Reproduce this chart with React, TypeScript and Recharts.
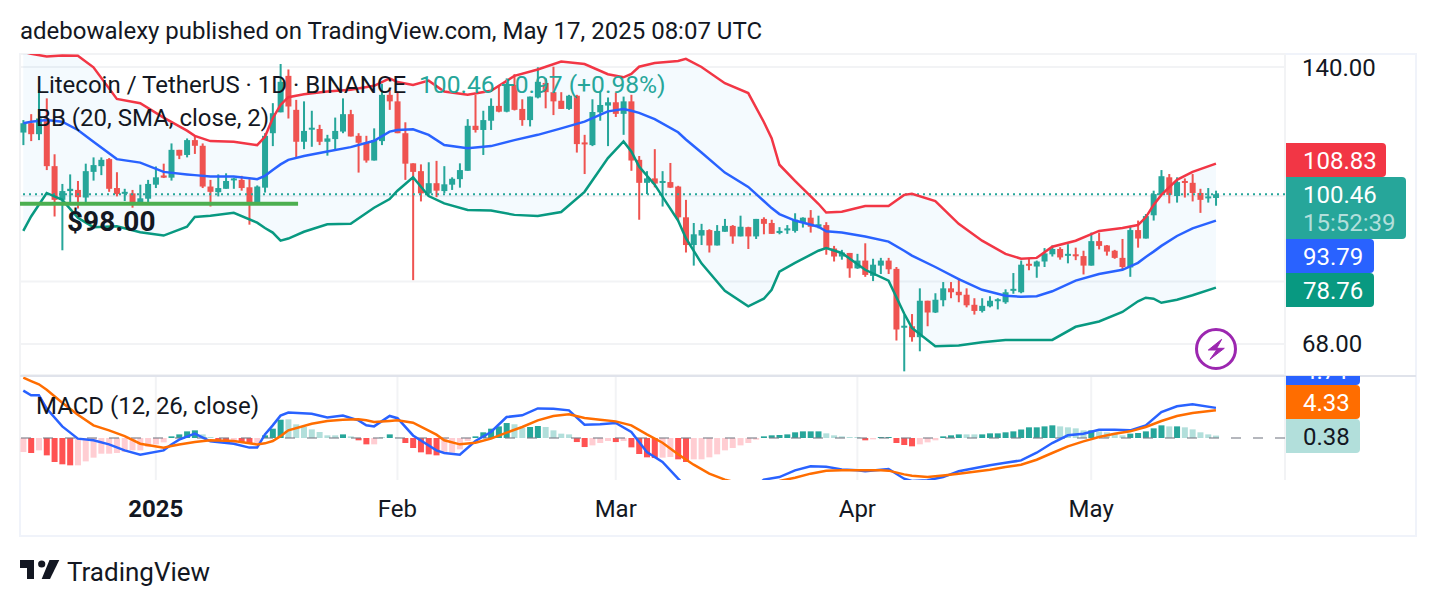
import React from "react";
import { ComposedChart, Bar, Line, Area, XAxis, YAxis, CartesianGrid, ReferenceLine, Cell } from "recharts";

const opens = [118.0,120.9,117.5,122.4,108.1,99.0,101.3,101.6,99.6,106.5,108.1,110.1,102.1,100.7,100.7,98.3,99.3,103.0,105.5,104.9,112.8,111.3,115.7,114.0,102.5,101.0,101.9,104.3,104.3,102.3,98.3,102.2,117.8,124.4,136.8,125.2,115.2,119.0,119.1,115.2,116.0,118.3,123.8,117.0,114.9,109.7,115.4,130.2,128.0,117.8,108.9,106.7,100.7,103.4,101.3,103.0,104.5,106.8,120.1,118.8,121.7,126.5,124.6,133.6,125.5,121.9,129.3,134.3,131.1,128.2,125.5,129.9,115.0,114.2,124.4,126.6,127.7,123.9,128.0,109.9,103.5,104.7,103.6,103.7,102.5,94.6,88.0,90.2,91.5,87.9,91.1,92.5,90.0,92.2,90.0,94.2,93.2,90.8,91.5,91.3,93.3,94.5,92.3,92.7,87.2,85.4,86.2,82.8,84.5,81.2,83.4,84.5,82.7,71.0,71.2,69.2,76.1,73.8,76.2,78.6,77.9,77.3,75.3,74.1,75.0,76.1,75.8,78.1,77.8,83.8,83.2,84.3,85.9,87.1,85.7,85.9,85.5,83.4,88.9,87.9,86.7,85.1,83.0,91.5,89.5,95.1,100.3,105.0,100.0,104.0,103.5,100.8,99.4,99.49];
const highs = [121.9,123.8,131.9,129.0,111.5,103.2,105.8,104.0,108.8,110.6,110.6,110.4,106.4,101.9,101.6,103.0,104.3,108.0,108.8,114.7,112.8,116.2,117.0,114.7,104.3,105.8,106.1,104.9,105.4,104.5,102.8,117.8,127.4,141.1,139.1,128.5,128.0,124.9,120.4,117.3,122.7,129.0,125.2,117.8,117.0,119.3,134.0,131.9,131.3,121.2,108.9,108.6,109.2,109.6,108.1,105.0,108.9,122.2,130.2,124.9,129.0,133.6,135.9,137.4,128.7,129.6,139.9,135.9,140.1,131.1,130.2,130.2,117.3,128.7,131.3,129.3,130.9,129.6,130.2,111.0,106.7,113.0,106.7,109.0,102.7,99.0,93.2,93.0,91.7,92.7,94.2,92.7,95.0,92.3,94.2,94.6,94.0,92.2,92.7,95.6,94.6,96.4,95.0,93.4,87.8,86.9,86.2,86.0,88.4,84.9,85.1,85.1,83.1,73.4,73.5,78.6,76.1,77.6,79.9,79.9,80.7,78.6,76.6,76.6,77.0,76.6,78.4,81.8,84.5,85.1,84.5,87.3,87.9,87.5,88.2,87.4,86.7,90.9,90.9,88.0,86.9,89.4,92.5,93.8,95.4,101.4,107.0,105.9,105.0,104.7,105.9,101.9,102.1,101.4];
const lows = [114.2,115.4,115.7,107.0,94.8,86.8,97.7,96.8,98.1,104.1,105.6,101.1,99.9,98.7,97.0,97.7,97.9,102.1,104.8,104.1,110.1,110.6,111.6,102.1,97.3,99.9,101.9,101.9,101.4,92.8,97.7,100.9,113.9,124.4,122.4,110.4,113.0,113.7,114.2,111.1,112.8,117.8,116.8,106.3,109.1,109.7,114.2,125.2,117.8,104.3,80.3,98.6,100.3,99.7,100.7,101.6,102.2,106.8,118.0,111.3,118.8,124.4,124.4,125.0,120.1,119.9,129.0,125.7,123.5,125.5,125.2,112.0,105.9,113.9,121.7,113.9,122.9,117.3,106.8,94.0,100.5,102.3,97.3,102.1,93.6,86.3,83.4,88.0,86.3,87.9,91.1,88.3,90.0,87.1,89.4,90.5,90.6,90.5,90.6,90.9,92.1,90.9,91.9,85.8,84.3,84.7,80.8,82.7,81.0,80.1,81.6,81.6,68.6,63.3,68.4,66.7,71.2,73.7,75.0,76.6,75.8,74.8,73.4,73.8,74.8,74.4,75.5,77.5,77.6,82.4,80.8,83.1,85.4,84.7,83.9,84.6,81.5,83.4,87.0,85.6,84.9,82.4,81.0,87.4,89.5,93.8,100.3,98.1,98.3,99.6,98.6,95.7,98.3,97.5];
const closes = [120.9,117.5,122.4,108.1,99.0,101.3,101.9,99.7,106.7,108.4,109.9,101.9,100.5,101.1,98.1,99.4,103.2,105.0,104.9,112.8,111.1,115.7,114.0,102.5,101.1,102.1,104.0,104.7,102.1,98.3,102.5,117.0,124.1,134.7,126.3,115.2,118.5,119.5,115.2,116.2,118.5,123.8,116.8,114.9,109.7,115.7,130.2,128.0,117.8,108.8,106.5,100.7,103.4,101.4,103.1,104.6,107.0,120.1,118.8,121.9,126.5,124.6,133.6,125.2,121.9,129.6,134.7,131.1,128.0,125.5,129.9,114.5,114.5,124.5,126.8,127.7,123.9,128.0,109.7,103.5,104.7,103.3,104.0,102.2,94.6,88.0,90.5,91.5,87.9,91.3,92.5,90.0,92.3,90.0,94.2,93.0,90.6,91.3,91.9,94.0,94.5,92.3,92.9,87.1,85.4,86.3,82.8,84.5,81.4,83.6,84.5,82.6,70.6,71.3,69.2,76.1,73.8,76.3,78.6,77.8,77.2,75.2,74.1,75.1,76.1,76.4,77.8,78.5,83.6,83.5,84.3,86.1,87.1,85.2,86.0,85.6,83.4,88.9,87.8,86.5,85.1,83.1,91.5,89.5,94.9,100.5,105.3,100.3,103.7,103.6,100.8,99.0,99.9,100.46];

const bbIdx = [0,1,3,5,7,9,12,15,18,21,22,24,27,30,31,32,33,34,36,39,42,45,47,48,50,52,54,57,60,63,66,69,72,75,77,78,79,81,84,85,87,90,93,95,96,97,99,102,103,105,108,111,113,114,117,120,123,126,128,130,132,135,138,141,143,144,145,146,148,150,153];
const bbUpper = [145.7,144.9,143.9,144.3,144.2,139.9,128.8,127.4,122.7,118.6,117.0,115.4,115.2,114.2,116.7,122.5,126.8,129.4,130.4,131.3,131.9,133.3,135.9,134.6,133.6,135.1,131.3,130.2,131.6,136.8,139.1,142.0,141.1,137.4,136.3,137.5,140.1,141.5,142.2,143.0,140.0,134.2,130.8,121.3,116.3,108.5,104.0,98.0,95.8,96.0,97.4,97.4,100.3,100.6,98.7,93.0,89.0,86.0,84.9,85.1,87.6,89.0,91.3,92.0,92.7,94.6,97.7,100.3,104.3,106.5,108.83];
const bbMid = [120.9,121.4,121.9,121.4,118.8,115.2,110.1,109.1,106.5,105.8,105.6,105.2,105.2,104.5,105.4,107.0,108.6,109.9,111.0,112.3,113.6,115.5,118.3,118.8,119.0,117.3,114.2,113.3,113.9,115.7,117.3,119.3,121.4,124.7,125.5,124.9,124.2,122.2,118.1,115.9,112.0,106.3,102.4,98.7,96.9,95.4,93.8,92.3,91.2,90.9,90.0,88.8,86.7,85.6,83.1,80.5,78.3,77.1,76.9,77.0,78.0,80.2,81.6,82.5,84.0,85.3,86.5,87.8,90.1,91.9,93.79];
const bbLower = [91.3,94.8,100.8,99.0,94.5,92.2,92.4,91.0,90.2,92.3,94.7,95.0,95.7,93.3,92.0,90.9,89.0,89.5,91.1,92.9,93.0,97.0,99.2,101.4,105.0,100.0,98.1,96.4,96.3,95.2,94.9,95.9,101.1,110.4,115.3,112.3,108.0,103.0,93.8,89.6,83.9,78.1,75.0,76.5,78.3,82.1,84.0,86.7,87.3,86.2,82.5,80.2,73.6,70.9,67.6,67.7,68.3,68.7,68.7,68.7,68.7,71.1,72.1,73.9,76.0,76.7,76.5,75.7,76.3,77.2,78.76];

const macdIdx = [0,1,2,3,5,7,9,11,13,15,18,19,20,22,24,27,29,30,31,32,33,34,37,39,41,43,44,45,47,48,50,53,54,56,58,60,62,64,66,68,70,72,74,76,78,80,82,84,86,88,90,92,95,97,99,101,103,105,107,108,110,111,113,114,116,118,120,122,124,126,128,130,132,134,136,138,140,142,144,146,148,150,153];
const macdLine = [7.4,6.67,6.67,4.6,1.82,-0.1,-0.36,-1.0,-1.93,-2.6,-1.93,-1.0,-0.26,0.68,-0.52,-0.9,-1.5,-1.5,0.57,1.98,3.5,3.97,3.8,3.2,3.5,2.75,2.0,1.82,3.45,3.1,0.4,-1.93,-2.34,-2.6,-0.47,0.94,3.28,3.54,4.63,4.58,4.32,2.08,2.14,2.34,0.94,-2.18,-3.75,-6.36,-8.7,-10.3,-10.8,-9.74,-6.5,-6.1,-5.05,-4.4,-4.5,-4.9,-5.05,-5.2,-4.95,-4.84,-6.36,-6.72,-6.6,-6.1,-5.2,-4.74,-4.27,-3.86,-3.5,-2.3,-0.78,0.42,0.68,1.3,1.3,1.2,1.98,4.06,4.95,5.26,4.71];
const signalLine = [9.43,8.9,8.39,7.55,5.52,3.65,1.98,1.2,0.3,-0.89,-1.5,-1.25,-1.0,-0.63,-0.36,-0.47,-0.83,-1.0,-0.83,-0.47,0.3,1.2,2.24,2.66,2.86,2.92,2.76,2.5,2.66,2.76,2.39,0.52,-0.36,-0.99,-0.73,-0.1,0.83,1.72,2.76,3.44,3.7,3.13,2.86,2.6,1.98,0.57,-0.73,-2.55,-4.17,-5.57,-6.5,-7.14,-7.14,-6.72,-6.2,-5.57,-5.1,-5.05,-5.05,-5.05,-5.05,-5.1,-5.68,-5.89,-6.1,-5.84,-5.57,-5.26,-4.95,-4.53,-4.17,-3.39,-2.34,-1.3,-0.52,0.16,0.68,1.04,1.72,2.66,3.44,3.9,4.33];
const histValues = [-2.19,-2.34,-1.93,-2.71,-3.75,-4.11,-4.27,-4.27,-3.65,-3.07,-2.45,-2.45,-2.34,-2.19,-1.93,-1.93,-1.41,-0.99,-0.68,0.26,0.57,1.04,1.2,0.57,0.16,-0.57,-0.78,-0.78,-0.78,-0.78,-0.78,0.42,1.46,2.86,2.92,2.14,1.72,1.35,0.94,0.42,0.42,0.57,0.26,-0.36,-0.99,-0.99,0.05,0.57,0.05,-0.78,-1.56,-2.24,-2.55,-2.71,-2.34,-2.29,-1.77,-0.47,0.26,0.89,1.46,1.82,2.34,2.14,1.61,1.72,1.88,1.72,1.2,0.68,0.57,-0.63,-1.41,-1.15,-0.78,-0.47,-0.63,-0.47,-1.46,-2.5,-3.02,-3.13,-3.07,-2.97,-3.33,-3.75,-3.33,-3.33,-3.02,-2.55,-1.93,-1.56,-1.15,-0.78,-0.26,0.26,0.42,0.47,0.57,0.89,1.04,1.04,1.04,0.73,0.42,0.26,0.16,0.16,-0.36,-0.21,0.16,0.16,-0.78,-1.09,-1.3,-0.99,-0.68,-0.36,0.26,0.42,0.57,0.57,0.57,0.57,0.73,0.73,0.89,1.04,1.35,1.67,1.67,1.82,1.98,1.82,1.67,1.51,1.2,1.2,1.04,0.89,0.68,0.42,0.68,0.78,1.04,1.51,1.98,1.82,1.82,1.67,1.35,0.89,0.57,0.38];
const histKinds = "LRLRRRRLLLLLLLLLLLLTTTTBBRRLRRLTTTBBBBBBBTBRRLTTBRRRRRLLLLTTTTTBBTTBBBBRRLLLRLRRRRLLRRLLLLLLLLLTTTTTTTTBBBBBRLTTRRRLLLTTTBBTTTTTTTTTTBBBBTBBBBTTTTTBTBBBBB";

const priceTicks = [140, 100, 80, 68];
const labelledPrices = [140, 68];
const timeTickIdx = [17, 48, 76, 107, 137];
const timeTickLabels = ["2025", "Feb", "Mar", "Apr", "May"];
const supportLevel = 98;
const lastPrice = 100.46;

const TEAL = "#26a69a";
const RED = "#ef5350";
const histColors: Record<string, string> = { T: "#26a69a", B: "#b2dfdb", R: "#ff5252", L: "#ffcdd2" };

const rows = opens.map((o, i) => {
  const b = bbIdx.indexOf(i);
  const m = macdIdx.indexOf(i);
  return {
    i,
    open: o,
    high: highs[i],
    low: lows[i],
    close: closes[i],
    hist: histValues[i],
    kind: histKinds[i],
    range: [lows[i], highs[i]],
    upper: b >= 0 ? bbUpper[b] : null,
    mid: b >= 0 ? bbMid[b] : null,
    lower: b >= 0 ? bbLower[b] : null,
    band: b >= 0 ? [bbLower[b], bbUpper[b]] : null,
    macd: m >= 0 ? macdLine[m] : null,
    signal: m >= 0 ? signalLine[m] : null,
  };
});

const Candle = (props: any) => {
  const { x, y, width, height, payload } = props;
  const top = Math.min(y, y + height);
  const h = Math.abs(height);
  const cx = x + width / 2;
  const k = h / Math.log(payload.high / payload.low);
  const bt = Math.max(payload.open, payload.close);
  const bb = Math.min(payload.open, payload.close);
  const by1 = top + Math.log(payload.high / bt) * k;
  const by2 = top + Math.log(payload.high / bb) * k;
  const c = payload.close >= payload.open ? TEAL : RED;
  return (
    <g>
      <rect x={cx - 1} y={top} width={2} height={h} fill={c} />
      <rect x={cx - 3} y={by1} width={6} height={Math.max(by2 - by1, 2)} fill={c} />
    </g>
  );
};

const TimeTick = (props: any) => {
  const { x, y, payload } = props;
  const k = timeTickIdx.indexOf(payload.value);
  const label = timeTickLabels[k];
  return (
    <text x={x} y={y} textAnchor="middle" dominantBaseline="central" fontFamily="Roboto" fontSize={24}
      fontWeight={label === "2025" ? 700 : 400} fill="#131722">{label}</text>
  );
};

const font = "Roboto, sans-serif";
const Txt = ({ x, y, size = 24, color = "#131722", weight = 400, children }: any) => (
  <div style={{ position: "absolute", left: x, top: y - 20, height: 40, lineHeight: "40px", fontSize: size, color, fontWeight: weight, fontFamily: font, whiteSpace: "nowrap" }}>{children}</div>
);
const Tag = ({ top, bottom, right, bg }: any) => (
  <div style={{ position: "absolute", left: 1286, top, width: right - 1286, height: bottom - top, background: bg, borderRadius: "0 4px 4px 0" }} />
);

const xDomain: [number, number] = [-0.423, 161.86];

export default function App() {
  return (
    <div style={{ position: "absolute", left: 0, top: 0, width: 1436, height: 606, background: "#fff", overflow: "hidden" }}>
      <Txt x={20} y={31}>adebowalexy published on TradingView.com, May 17, 2025 08:07 UTC</Txt>
      <div style={{ position: "absolute", left: 19, top: 53, width: 1398, height: 484, border: "2px solid #f0f3fa", boxSizing: "border-box" }} />

      <div style={{ position: "absolute", left: 0, top: 0 }}>
        <ComposedChart width={1436} height={376} data={rows} margin={{ top: 54, right: 20, bottom: 1, left: 20 }}>
          <CartesianGrid stroke="#f2f3f5" strokeWidth={2} />
          <XAxis dataKey="i" type="number" domain={xDomain} allowDataOverflow ticks={timeTickIdx} tick={false} axisLine={false} tickLine={false} height={0} />
          <YAxis orientation="right" width={131} scale="log" domain={[62.7, 144.83]} allowDataOverflow ticks={priceTicks}
            axisLine={false} tickLine={false} tickMargin={11} interval={0}
            tickFormatter={(v: number) => (labelledPrices.includes(v) ? v.toFixed(2) : "")} tick={{ fontSize: 24, fontFamily: "Roboto", fill: "#131722", textAnchor: "start" }} />
          <ReferenceLine y={lastPrice} stroke={TEAL} strokeWidth={2} strokeDasharray="2 4" />
          <Area dataKey="band" stroke="none" fill="#2196f3" fillOpacity={0.05} connectNulls isAnimationActive={false} dot={false} activeDot={false} />
          <Line dataKey="upper" stroke="#f23645" strokeWidth={2.5} dot={false} connectNulls isAnimationActive={false} />
          <Line dataKey="mid" stroke="#2962ff" strokeWidth={2.5} dot={false} connectNulls isAnimationActive={false} />
          <Line dataKey="lower" stroke="#089981" strokeWidth={2.5} dot={false} connectNulls isAnimationActive={false} />
          <Bar dataKey="range" barSize={6} shape={<Candle />} isAnimationActive={false} />
          <ReferenceLine segment={[{ x: -0.423, y: supportLevel }, { x: 35.25, y: supportLevel }]} stroke="#4caf50" strokeWidth={4} />
        </ComposedChart>
      </div>

      <div style={{ position: "absolute", left: 0, top: 376 }}>
        <ComposedChart width={1436} height={160} data={rows} margin={{ top: 0, right: 20, bottom: 0, left: 20 }}>
          <CartesianGrid stroke="#f2f3f5" strokeWidth={2} horizontalValues={[0]} />
          <XAxis dataKey="i" type="number" domain={xDomain} allowDataOverflow ticks={timeTickIdx} interval={0} axisLine={false} tickLine={false} height={56} tick={<TimeTick />} tickMargin={23} />
          <YAxis orientation="right" width={131} domain={[-6.56, 9.69]} allowDataOverflow ticks={[0]} tick={false} axisLine={false} tickLine={false} />
          <Bar dataKey="hist" barSize={6} isAnimationActive={false}>
            {rows.map((r) => <Cell key={r.i} fill={histColors[r.kind]} />)}
          </Bar>
          <ReferenceLine y={0} stroke="#787b86" strokeOpacity={0.55} strokeWidth={2} strokeDasharray="10 12" />
          <Line dataKey="macd" stroke="#2962ff" strokeWidth={2.5} dot={false} connectNulls isAnimationActive={false} />
          <Line dataKey="signal" stroke="#ff6d00" strokeWidth={2.5} dot={false} connectNulls isAnimationActive={false} />
        </ComposedChart>
      </div>

      <div style={{ position: "absolute", left: 20, top: 375, width: 1396, height: 2, background: "#e0e3eb" }} />

      <Txt x={36} y={85}>Litecoin / TetherUS · 1D · BINANCE</Txt>
      <Txt x={419} y={85} size={24.6} color={TEAL}>100.46 +0.97 (+0.98%)</Txt>
      <Txt x={36} y={118}>BB (20, SMA, close, 2)</Txt>
      <Txt x={36} y={406}>MACD (12, 26, close)</Txt>
      <Txt x={67} y={222} size={28} weight={700} color="#131722">$98.00</Txt>

      <Tag top={143} bottom={177} right={1386} bg="#f23645" />
      <Tag top={177} bottom={239} right={1406} bg="#26a69a" />
      <Tag top={239} bottom={273} right={1374} bg="#2962ff" />
      <Tag top={273} bottom={307} right={1374} bg="#089981" />
      <Txt x={1303} y={161} color="#fff">108.83</Txt>
      <Txt x={1303} y={195} color="#fff">100.46</Txt>
      <Txt x={1303} y={223} color="#b2dfdb">15:52:39</Txt>
      <Txt x={1303} y={257} color="#fff">93.79</Txt>
      <Txt x={1303} y={291} color="#fff">78.76</Txt>

      <div style={{ position: "absolute", left: 1286, top: 376, width: 74, height: 9, overflow: "hidden" }}>
        <div style={{ position: "absolute", left: 0, top: -34, width: 74, height: 43, background: "#2962ff", borderRadius: "0 4px 4px 0" }} />
        <div style={{ position: "absolute", left: 17, top: -25, lineHeight: "40px", fontSize: 24, color: "#fff", fontFamily: font }}>4.71</div>
      </div>
      <Tag top={385} bottom={419} right={1360} bg="#ff6d00" />
      <Tag top={419} bottom={453} right={1360} bg="#b2dfdb" />
      <Txt x={1303} y={403} color="#fff">4.33</Txt>
      <Txt x={1303} y={437} color="#131722">0.38</Txt>

      <svg style={{ position: "absolute", left: 0, top: 0 }} width={1436} height={606}>
        <circle cx={1216} cy={349} r={19.5} fill="#fff" stroke="#9c27b0" strokeWidth={3} />
        <path d="M1221.7 339.3 L1208.3 350 L1216.7 350 L1210 359.3 L1224.3 348.3 L1216.7 348.3 Z" fill="#9c27b0" stroke="#9c27b0" strokeWidth={1} strokeLinejoin="round" />
        <path d="M20 560 H34 V579 H27 V568 H20 Z" fill="#131722" />
        <circle cx={41.7} cy={564} r={3.6} fill="#131722" />
        <path d="M49.5 560 H59.3 L50 579 H41.7 Z" fill="#131722" />
      </svg>
      <Txt x={67} y={572} size={26}>TradingView</Txt>
    </div>
  );
}
